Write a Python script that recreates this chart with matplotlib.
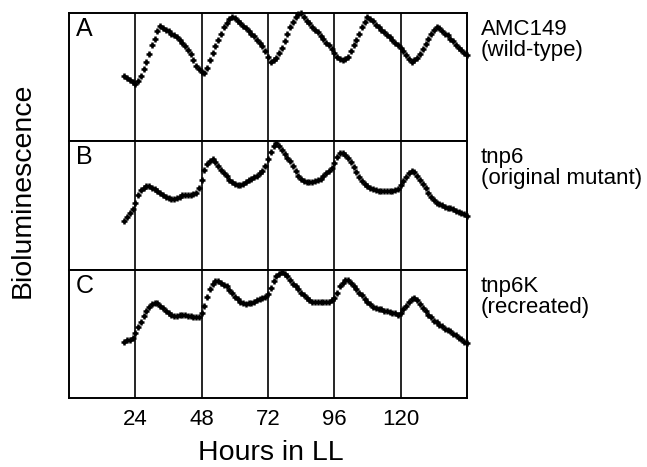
import numpy as np
import matplotlib
matplotlib.use("Agg")
import matplotlib.pyplot as plt

plt.rcParams['font.family'] = ['Liberation Sans', 'DejaVu Sans']

# hours in constant light, one reading per hour
hours = np.arange(20, 145)

# bioluminescence, arbitrary units (0-100 per panel)
amc149 = [51, 49, 48, 46, 45, 47, 51, 56, 62, 68, 75, 80, 86, 90, 88, 87, 86, 84, 83, 81,
          79, 77, 74, 71, 68, 63, 59, 56, 54, 53, 57, 63, 69, 74, 79, 84, 89, 92, 95, 97,
          96, 94, 92, 90, 88, 86, 84, 82, 79, 77, 74, 70, 66, 62, 63, 65, 69, 73, 78, 84,
          89, 93, 97, 99, 100, 97, 94, 92, 89, 87, 85, 82, 80, 77, 75, 72, 69, 66, 64, 63,
          64, 66, 70, 75, 79, 84, 89, 93, 97, 95, 94, 91, 89, 87, 85, 83, 81, 79, 77, 75,
          73, 70, 67, 64, 62, 63, 65, 68, 72, 76, 80, 84, 87, 89, 88, 86, 84, 83, 80, 78,
          75, 73, 71, 69, 67]

tnp6 = [38, 41, 44, 47, 52, 58, 62, 64, 65, 65, 64, 63, 61, 60, 58, 57, 56, 55, 55, 56,
        57, 58, 58, 58, 58, 59, 60, 64, 70, 78, 82, 85, 86, 84, 81, 78, 75, 73, 70, 68,
        67, 66, 66, 67, 68, 70, 71, 72, 73, 75, 77, 81, 86, 92, 96, 99, 96, 93, 90, 87,
        85, 81, 77, 73, 71, 69, 68, 68, 68, 69, 70, 71, 73, 75, 77, 79, 83, 88, 91, 91,
        89, 87, 84, 80, 76, 72, 69, 67, 65, 64, 63, 62, 61, 61, 61, 61, 61, 61, 62, 63,
        66, 69, 72, 75, 77, 76, 73, 70, 67, 64, 60, 57, 54, 52, 51, 50, 49, 48, 48, 47,
        46, 45, 44, 43, 42]

tnp6k = [44, 45, 45, 47, 51, 55, 59, 64, 68, 71, 73, 74, 74, 72, 70, 68, 66, 65, 64, 64,
         65, 65, 65, 64, 64, 63, 63, 63, 66, 72, 79, 85, 89, 91, 91, 90, 88, 87, 84, 82,
         79, 77, 75, 74, 73, 74, 74, 75, 76, 77, 78, 79, 81, 86, 91, 95, 97, 98, 97, 95,
         92, 89, 87, 85, 82, 80, 78, 76, 75, 75, 75, 75, 75, 75, 75, 76, 78, 82, 87, 90,
         92, 92, 90, 87, 85, 82, 80, 77, 75, 73, 71, 70, 69, 69, 68, 68, 67, 66, 66, 65,
         66, 69, 72, 75, 77, 78, 76, 73, 70, 68, 65, 63, 60, 59, 57, 56, 54, 53, 52, 50,
         49, 47, 46, 44, 43]

panel_letters = ["A", "B", "C"]
strain_labels = ["AMC149\n(wild-type)", "tnp6\n(original mutant)", "tnp6K\n(recreated)"]
xticks = [24, 48, 72, 96, 120]

W, H = 647, 467
fig = plt.figure(figsize=(W / 100, H / 100), dpi=100)

left, right = 69, 467
top, bottom = 13, 398
ph = (bottom - top) / 3.0

series = [amc149, tnp6, tnp6k]
for i, vals in enumerate(series):
    ytop = top + i * ph
    ax = fig.add_axes([left / W, 1 - (ytop + ph) / H, (right - left) / W, ph / H])
    ax.plot(hours, vals, linestyle="none", marker="+", ms=4.8, mew=1.8, color="black",
            clip_on=False)
    ax.set_xlim(0, 144)
    ax.set_ylim(0, 100)
    for x in xticks:
        ax.axvline(x, color="black", lw=1.2)
    for s in ax.spines.values():
        s.set_linewidth(1.4)
    ax.set_yticks([])
    ax.set_xticks(xticks)
    ax.tick_params(axis="x", length=0, pad=8, labelsize=16)
    if i < 2:
        ax.tick_params(labelbottom=False)
    ax.text(0.018, 0.97, panel_letters[i], transform=ax.transAxes, fontsize=18,
            ha="left", va="top")
    fig.text(481 / W, 1 - (ytop + 6) / H, strain_labels[i], fontsize=16,
             ha="left", va="top", linespacing=1.0)

fig.text(23 / W, 1 - 190 / H, "Bioluminescence", fontsize=20.5, rotation=90,
         ha="center", va="center")
fig.text((left + right) / 2 / W + 0.005, 1 - 460 / H, "Hours in LL", fontsize=20.5,
         ha="center", va="baseline")

fig.savefig("out.png", dpi=100)
